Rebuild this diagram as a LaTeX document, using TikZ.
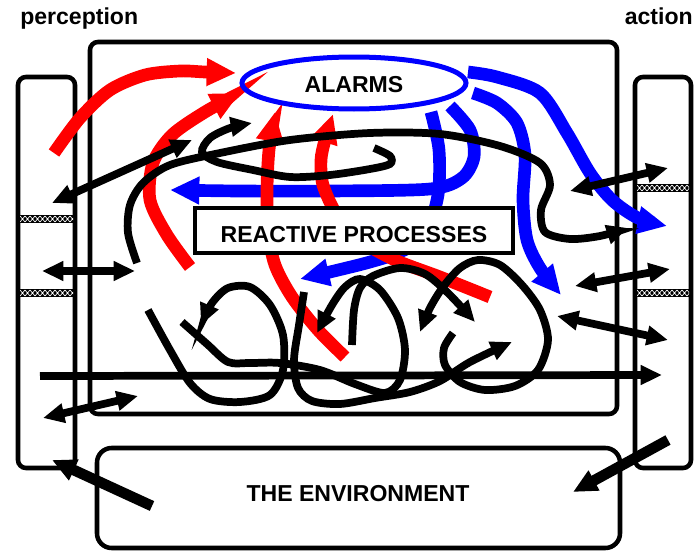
\documentclass[tikz,border=0pt]{standalone}
\usepackage{fontspec}
\setmainfont{Liberation Sans}
\usetikzlibrary{arrows.meta}
% black band with a white cross-hatch: x-from, x-to, centre y
\newcommand\hatchband[3]{%
  \fill[black] (#1,#3-4) rectangle (#2,#3+4);
  \begin{scope}
    \clip (#1,#3-4) rectangle (#2,#3+4);
    \foreach \k in {0,...,12} {
      \draw[white, line width=0.5pt] ({#1+5*\k},#3-3) -- ++(5,6) ({#1+5*\k},#3+3) -- ++(5,-6);
    }
  \end{scope}}
\begin{document}
\begin{tikzpicture}[x=0.75pt,y=-0.75pt,
  frame/.style={draw=black, line width=3.4pt, rounded corners=6pt},
  heading/.style={font=\fontsize{17.3}{20}\selectfont\bfseries, inner sep=0pt},
  redflow/.style={draw=red, line width=9.5pt, -{Triangle[length=22pt,width=19.5pt]}},
  blueflow/.style={draw=blue, line width=9.5pt, -{Triangle[length=22pt,width=19.5pt]}},
  link/.style={draw=black, line width=5.8pt},
  onehead/.style={-{Triangle[length=16pt,width=14pt]}},
  twoheads/.style={{Triangle[length=16pt,width=14pt]}-{Triangle[length=16pt,width=14pt]}},
  heavy/.style={draw=black, line width=8pt, -{Triangle[length=18pt,width=16pt]}},
]
\useasboundingbox (0,0) rectangle (694,553);

% frames: perception column, central system, action column, environment
\draw[frame] (90,42) rectangle (617,414);
\draw[frame] (18,77) rectangle (75,468);
\draw[frame] (635,77) rectangle (691,468);
\draw[frame, rounded corners=11pt] (97,448) rectangle (620,548);

\hatchband{20}{73}{219}
\hatchband{20}{73}{293}
\hatchband{637}{689}{188}
\hatchband{637}{689}{293}

% alarm outputs (blue)
\draw[blueflow] plot[smooth] coordinates {(450,106) (470,130) (474,157) (462,178) (430,189) (330,191) (240,191) (170,190)};
\draw[blueflow] plot[smooth] coordinates {(431,112) (439,150) (438,195) (425,235) (400,252) (370,262) (330,272) (300,279)};
\draw[blueflow] plot[smooth] coordinates {(468,72) (497,77) (540,93) (567,133) (590,173) (612,200) (638,218) (667,226)};
\draw[blueflow] plot[smooth] coordinates {(473,93) (497,103) (517,123) (525,155) (523,200) (527,240) (540,268) (561,295)};

% alarm inputs (red)
\draw[redflow] plot[smooth] coordinates {(54,153) (80,118) (110,90) (145,75) (180,71) (205,72) (236,73)};
\draw[redflow] plot[smooth] coordinates {(190,267) (167,235) (150,200) (153,163) (172,135) (205,112) (240,93)};
\draw[redflow] plot[smooth] coordinates {(345,357) (318,330) (292,297) (275,265) (268,230) (267,190) (269,150) (275,112)};
\draw[redflow] plot[smooth] coordinates {(490,297) (440,277) (395,260) (360,240) (337,215) (323,185) (321,160) (325,140) (333,114)};

% reactive layer box and alarm ellipse
\draw[black, fill=white, line width=2.6pt] (195,208) rectangle (513,253);
\node[heading, anchor=base] (react) at (354,242) {REACTIVE PROCESSES};
\draw[blue, line width=3.75pt] (354,83) ellipse [x radius=84pt, y radius=19.5pt];
\node[heading, anchor=base] (alarms) at (354,93) {ALARMS};

% links between perception, action and the reactive layer
\draw[link, twoheads] (52,203) -- (192,140);
\draw[link, twoheads] (42,271) -- (135,271);
\draw[link, twoheads] (43,418) -- (138,396);
\draw[link, onehead] (40,376) -- (662,375);
\draw[link, twoheads] (570,191) -- (668,168);
\draw[link, twoheads] (575,286) -- (670,269);
\draw[link, twoheads] (557,316) -- (668,340);
\draw[heavy] (152,506) -- (52,460);
\draw[heavy] (668,440) -- (573,492);

% long loops through the reactive layer
\draw[link, onehead] plot[smooth] coordinates {(137,263) (128,233) (130,205) (143,183) (170,165) (220,153) (290,140) (370,133) (440,134) (500,146) (540,163) (550,185) (541,210) (545,232) (570,239) (600,236) (628,228)};
\draw[link, onehead] plot[smooth] coordinates {(374,148) (390,156) (390,164) (370,169) (330,175) (290,177) (253,170) (217,162) (202,152) (210,138) (230,128) (252,123)};

% tangle of reactive processes
\draw[link, onehead] plot[smooth] coordinates {(148,310) (170,350) (190,383) (210,399) (240,402) (270,395) (283,370) (283,335) (270,305) (250,287) (228,288) (212,303) (201,325)};
\draw[link, onehead] plot[smooth] coordinates {(182,322) (207,344) (228,362) (250,363) (280,363) (320,370) (355,384) (385,393) (400,380) (405,350) (398,318) (380,290) (360,279) (345,287) (332,305) (317,333)};
\draw[link, onehead] plot[smooth] coordinates {(304,292) (299,325) (294,360) (298,388) (312,401) (340,404) (375,398) (410,392) (440,381) (470,362) (512,342)};
\draw[link, onehead] plot[smooth] coordinates {(352,345) (354,310) (360,288) (373,276) (400,268) (425,274) (448,293) (475,322)};
\draw[link, onehead] plot[smooth] coordinates {(453,333) (444,348) (445,365) (460,382) (485,390) (515,386) (538,370) (548,340) (540,310) (522,285) (500,265) (478,260) (460,268) (443,287) (430,308) (420,332)};

% labels
\node[heading, anchor=base west] (perc) at (20,25) {perception};
\node[heading, anchor=base east] (act) at (693,25) {action};
\node[heading, anchor=base] (env) at (358,501) {THE ENVIRONMENT};
\end{tikzpicture}
\end{document}
